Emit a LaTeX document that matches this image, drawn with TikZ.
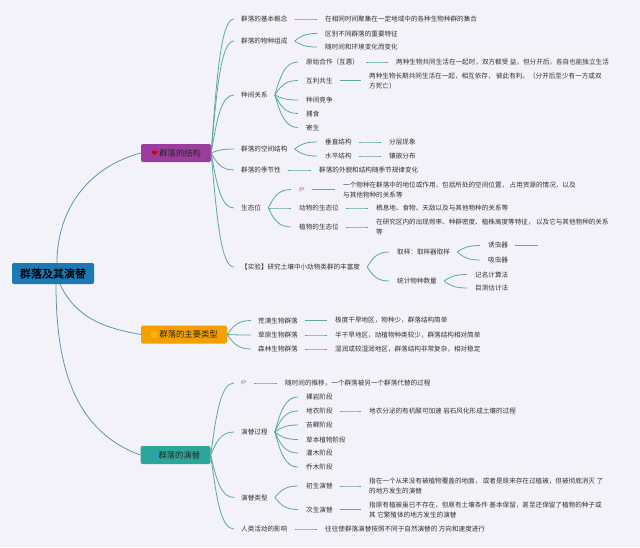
\documentclass[tikz,border=0pt]{standalone}
\usepackage{fontspec}
\setmainfont{Noto Sans CJK SC}
\newfontfamily\symfont{DejaVu Sans}
\newfontfamily\boldcjk{Noto Sans CJK SC}[FakeBold=1.2]
\usetikzlibrary{calc}
\definecolor{bg}{HTML}{F2F2F8}
\definecolor{rootblue}{HTML}{1B7AB3}
\definecolor{purp}{HTML}{9C3D9D}
\definecolor{orng}{HTML}{F5A000}
\definecolor{tealb}{HTML}{2CA69A}
\definecolor{lineg}{HTML}{5BAB9C}
\definecolor{lineb}{HTML}{6095AC}
\definecolor{txt}{HTML}{333333}
\tikzset{
  lbl/.style={anchor=west, inner xsep=3pt, inner ysep=1pt, font=\fontsize{6.6}{10}\selectfont, text=txt, align=left},
  gxlbl/.style={lbl, font=\fontsize{5}{6}\selectfont, text=black!55},
  conn/.style={draw=lineg, line width=0.8pt},
  rconn/.style={draw=lineb, line width=0.8pt},
  boxb/.style={rounded corners=2pt, minimum height=18pt, inner xsep=4pt, font=\fontsize{8.3}{10}\selectfont, text=black!85},
}
\newcommand\mmc[2]{\draw[conn] let \p1=(#1.east), \p2=(#2.west) in ({\x1+4pt},\y1) .. controls ({\x1+4pt+0.25*(\x2-\x1-9pt)},{\y1+0.6*(\y2-\y1)}) and ({\x1+4pt+0.45*(\x2-\x1-9pt)},\y2) .. ({\x2-5pt},\y2);}
\newcommand\mmb[2]{\draw[conn] let \p1=(#1.east), \p2=(#2.west) in (\p1) .. controls ({\x1+0.25*(\x2-\x1-4pt)},{\y1+0.6*(\y2-\y1)}) and ({\x1+0.45*(\x2-\x1-4pt)},\y2) .. ({\x2-4pt},\y2);}
\begin{document}
\begin{tikzpicture}[x=1pt,y=-1pt]
\fill[bg] (0,0) rectangle (640,547);
\useasboundingbox (0,0) rectangle (640,547);

% root and main branches
\node[fill=rootblue, rounded corners=2pt, minimum width=82pt, minimum height=21pt, inner sep=0pt, font=\boldcjk\fontsize{11}{12}\selectfont, text=black] (root) at (53,273.5) {群落及其演替};
\node[boxb, fill=purp, minimum width=70pt] (b1) at (176,153) {{\symfont\color{red!80!black}❤}\,群落的结构};
\node[boxb, fill=orng, minimum width=86pt] (b2) at (184,334.5) {{\symfont\color{orange!60!yellow}■}\,群落的主要类型};
\node[boxb, fill=tealb, minimum width=70pt] (b3) at (175.5,455) {{\symfont\color{cyan!60!teal}◆}\,群落的演替};

\draw[rconn] ([xshift=4pt]root.north) to[out=90,in=195] (b1.west);
\draw[rconn] ([xshift=7pt]root.south) to[out=-65,in=170] (b2.west);
\draw[rconn] ([xshift=3pt]root.south) to[out=-90,in=160] (b3.west);

% branch 1
\node[lbl] (a1) at (238,19) {群落的基本概念};
\node[lbl] (a1d) at (322,19) {在相同时间聚集在一定地域中的各种生物种群的集合};
\node[lbl] (a2) at (238,41) {群落的物种组成};
\node[lbl] (a2a) at (322,33.5) {区别不同群落的重要特征};
\node[lbl] (a2b) at (322,47) {随时间和环境变化而变化};
\node[lbl] (a3) at (238,95) {种间关系};
\node[lbl] (c1) at (303,62) {原始合作（互惠）};
\node[lbl] (c1d) at (393,62) {两种生物共同生活在一起时，双方都受 益，但分开后，各自也能独立生活};
\node[lbl] (c2) at (303,80.5) {互利共生};
\node[lbl] (c2d) at (366,80.5) {两种生物长期共同生活在一起，相互依存， 彼此有利。（分开后至少有一方或双\\方死亡）};
\node[lbl] (c3) at (303,100) {种间竞争};
\node[lbl] (c4) at (303,113.5) {捕食};
\node[lbl] (c5) at (303,127.5) {寄生};
\node[lbl] (a4) at (238,149) {群落的空间结构};
\node[lbl] (d1) at (322,142) {垂直结构};
\node[lbl] (d1d) at (386,142) {分层现象};
\node[lbl] (d2) at (322,156) {水平结构};
\node[lbl] (d2d) at (386,156) {镶嵌分布};
\node[lbl] (a5) at (238,170) {群落的季节性};
\node[lbl] (a5d) at (316,170) {群落的外貌和结构随季节规律变化};
\node[lbl] (a6) at (238,208) {生态位};
\node[gxlbl] (e1) at (296,189.5) {gx};
\node[lbl] (e1d) at (340,189.5) {一个物种在群落中的地位或作用，包括所处的空间位置， 占用资源的情况，以及\\与其他物种的关系等};
\node[lbl] (e2) at (296,208) {动物的生态位};
\node[lbl] (e2d) at (373,208) {栖息地、食物、天敌以及与其他物种的关系等};
\node[lbl] (e3) at (296,227) {植物的生态位};
\node[lbl] (e3d) at (373,227) {在研究区内的出现频率、种群密度、植株高度等特征， 以及它与其他物种的关系\\等};
\node[lbl] (a7) at (238,267) {【实验】研究土壤中小动物类群的丰富度};
\node[lbl] (f1) at (394,252) {取样：取样器取样};
\node[lbl] (f2) at (394,281) {统计物种数量};
\node[lbl] (g1) at (485,245.5) {诱虫器};
\node[lbl] (g2) at (485,260) {吸虫器};
\node[lbl] (g3) at (472,274.5) {记名计算法};
\node[lbl] (g4) at (472,288) {目测估计法};
\coordinate (g1e) at (538,245.5);

\foreach \c in {a1,a2,a3,a4,a5,a6,a7} {\mmb{b1}{\c}}
\mmc{a1}{a1d}
\mmc{a2}{a2a} \mmc{a2}{a2b}
\foreach \c in {c1,c2,c3,c4,c5} {\mmc{a3}{\c}}
\mmc{c1}{c1d} \mmc{c2}{c2d}
\mmc{a4}{d1} \mmc{a4}{d2} \mmc{d1}{d1d} \mmc{d2}{d2d}
\mmc{a5}{a5d}
\mmc{a6}{e1} \mmc{a6}{e2} \mmc{a6}{e3}
\mmc{e1}{e1d} \mmc{e2}{e2d} \mmc{e3}{e3d}
\mmc{a7}{f1} \mmc{a7}{f2}
\mmc{f1}{g1} \mmc{f1}{g2} \mmc{f2}{g3} \mmc{f2}{g4}
\draw[conn] ([xshift=4pt]g1.east) -- (g1e);

% branch 2
\node[lbl] (h1) at (255,320.5) {荒漠生物群落};
\node[lbl] (h1d) at (332,320.5) {极度干旱地区，物种少，群落结构简单};
\node[lbl] (h2) at (255,335) {草原生物群落};
\node[lbl] (h2d) at (332,335) {半干旱地区，动植物种类较少，群落结构相对简单};
\node[lbl] (h3) at (255,349) {森林生物群落};
\node[lbl] (h3d) at (332,349) {湿润或较湿润地区，群落结构非常复杂，相对稳定};
\foreach \c in {h1,h2,h3} {\mmb{b2}{\c}}
\mmc{h1}{h1d} \mmc{h2}{h2d} \mmc{h3}{h3d}

% branch 3
\node[gxlbl] (i1) at (238,383) {gx};
\node[lbl] (i1d) at (282,383) {随时间的推移，一个群落被另一个群落代替的过程};
\node[lbl] (i2) at (238,432) {演替过程};
\node[lbl] (j1) at (303,397) {裸岩阶段};
\node[lbl] (j2) at (303,411) {地衣阶段};
\node[lbl] (j2d) at (366,411) {地衣分泌的有机酸可加速 岩石风化形成土壤的过程};
\node[lbl] (j3) at (303,425) {苔藓阶段};
\node[lbl] (j4) at (303,439.5) {草本植物阶段};
\node[lbl] (j5) at (303,453) {灌木阶段};
\node[lbl] (j6) at (303,467) {乔木阶段};
\node[lbl] (i3) at (238,497.5) {演替类型};
\node[lbl] (k1) at (303,486) {初生演替};
\node[lbl] (k1d) at (366,486) {指在一个从来没有被植物覆盖的地面， 或者是原来存在过植被，但被彻底消灭 了\\的地方发生的演替};
\node[lbl] (k2) at (303,509.5) {次生演替};
\node[lbl] (k2d) at (366,509.5) {指原有植被虽已不存在，但原有土壤条件 基本保留，甚至还保留了植物的种子或\\其 它繁殖体的地方发生的演替};
\node[lbl] (i4) at (238,529) {人类活动的影响};
\node[lbl] (i4d) at (322,529) {往往使群落演替按照不同于自然演替的 方向和速度进行};
\foreach \c in {i1,i2,i3,i4} {\mmb{b3}{\c}}
\mmc{i1}{i1d}
\foreach \c in {j1,j2,j3,j4,j5,j6} {\mmc{i2}{\c}}
\mmc{j2}{j2d}
\mmc{i3}{k1} \mmc{i3}{k2}
\mmc{k1}{k1d} \mmc{k2}{k2d}
\mmc{i4}{i4d}
\end{tikzpicture}
\end{document}
